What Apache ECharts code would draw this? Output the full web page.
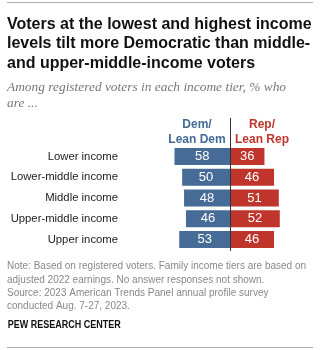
<!DOCTYPE html>
<html>
<head>
<meta charset="utf-8">
<style>
  html, body { margin: 0; padding: 0; background: #fff; }
  #chart { width: 322px; height: 350px; }
</style>
<script src="https://cdn.jsdelivr.net/npm/echarts@6/dist/echarts.min.js"></script>
</head>
<body>
<div id="chart"></div>
<script>
// Income tiers, top to bottom
const categories = ['Lower income', 'Lower-middle income', 'Middle income', 'Upper-middle income', 'Upper income'];
// % of registered voters in each tier
const demValues = [58, 50, 48, 46, 53];
const repValues = [36, 46, 51, 52, 46];

const DEM = '#456b96';
const REP = '#c0352b';
const SANS = '"Liberation Sans", Arial, sans-serif';

const chart = echarts.init(document.getElementById('chart'), null, { renderer: 'canvas' });

const option = {
  animation: false,
  backgroundColor: '#fff',
  grid: { left: 163, width: 134, top: 146, height: 104, containLabel: false },
  xAxis: {
    type: 'value', min: -70, max: 70,
    show: false
  },
  yAxis: {
    type: 'category', data: categories, inverse: true,
    axisLine: { show: false }, axisTick: { show: false }, splitLine: { show: false },
    axisLabel: { color: '#222', fontFamily: SANS, fontSize: 11.3, margin: 45 }
  },
  series: [
    {
      name: 'Dem/Lean Dem', type: 'bar', stack: 'p', barWidth: 17,
      data: demValues.map(v => -v),
      itemStyle: { color: DEM },
      label: { show: true, position: 'inside', color: '#fff', fontFamily: SANS, fontSize: 13,
               formatter: p => Math.abs(p.value) }
    },
    {
      name: 'Rep/Lean Rep', type: 'bar', stack: 'p', barWidth: 17,
      data: repValues,
      itemStyle: { color: REP },
      label: { show: true, position: 'inside', color: '#fff', fontFamily: SANS, fontSize: 13 }
    }
  ],
  graphic: [
    { type: 'line', shape: { x1: 7, y1: 2.5, x2: 313, y2: 2.5 }, style: { stroke: '#aaa', lineWidth: 1 } },
    { type: 'text', left: 7, top: 15,
      style: { text: 'Voters at the lowest and highest income\nlevels tilt more Democratic than middle-\nand upper-middle-income voters',
               font: 'bold 16px ' + SANS, fill: '#111', lineHeight: 19.3 } },
    { type: 'text', left: 7, top: 79,
      style: { text: 'Among registered voters in each income tier, % who\nare ...',
               font: 'italic 13.4px "Liberation Serif", Georgia, serif', fill: '#777', lineHeight: 16 } },
    { type: 'text', x: 197, y: 117,
      style: { text: 'Dem/\nLean Dem', font: 'bold 12px ' + SANS, fill: DEM, align: 'center', lineHeight: 15 } },
    { type: 'text', x: 262, y: 117,
      style: { text: 'Rep/\nLean Rep', font: 'bold 12px ' + SANS, fill: REP, align: 'center', lineHeight: 15 } },
    { type: 'text', left: 7, top: 260,
      style: { text: 'Note: Based on registered voters. Family income tiers are based on\nadjusted 2022 earnings. No answer responses not shown.\nSource: 2023 American Trends Panel annual profile survey\nconducted Aug. 7-27, 2023.',
               font: '10px ' + SANS, fill: '#888', lineHeight: 13.3 } },
    { type: 'text', x: 7, y: 320, scaleX: 0.9, originX: 7,
      style: { text: 'PEW RESEARCH CENTER', font: 'bold 10px ' + SANS, fill: '#111' } },
    { type: 'line', shape: { x1: 7, y1: 347.5, x2: 313, y2: 347.5 }, style: { stroke: '#aaa', lineWidth: 1 } }
  ]
};

chart.setOption(option);

// Divider at zero, running from the column headers to the bottom of the bars
const zero = chart.convertToPixel({ gridIndex: 0 }, [0, 0]);
const x0 = Math.round(zero[0]) + 0.5;
chart.setOption({
  graphic: option.graphic.concat([
    { type: 'line', z: 10, shape: { x1: x0, y1: 118, x2: x0, y2: 251 }, style: { stroke: '#333', lineWidth: 1 } }
  ])
});
</script>
</body>
</html>
